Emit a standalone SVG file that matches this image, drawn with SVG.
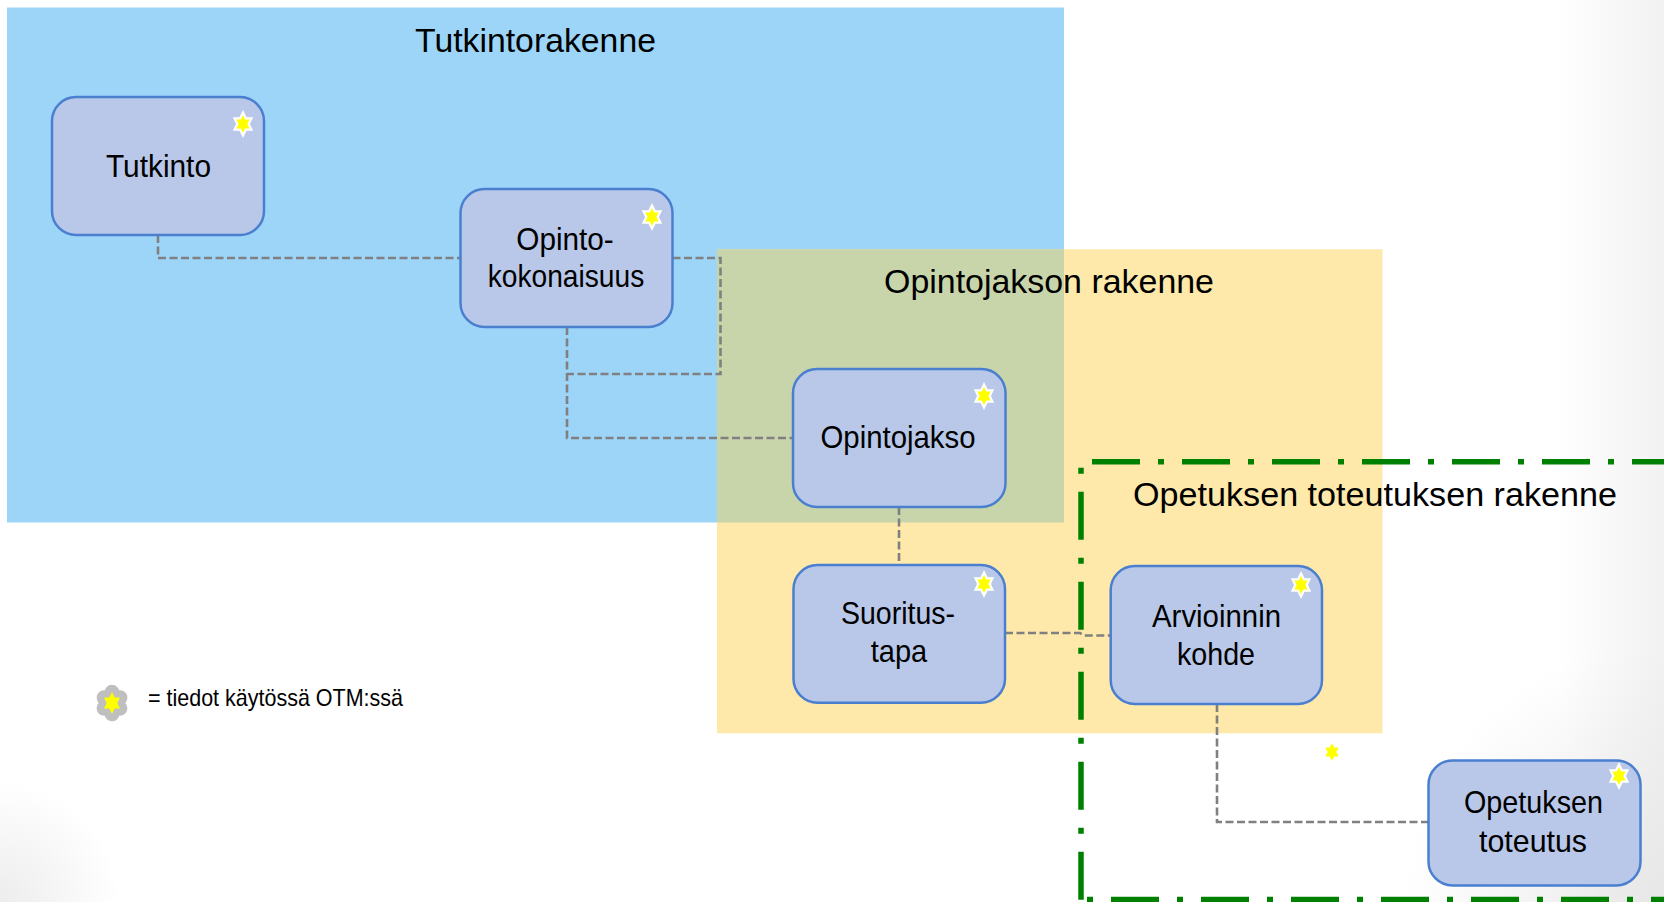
<svg xmlns="http://www.w3.org/2000/svg" width="1664" height="902" viewBox="0 0 1664 902">
<defs>
<style>
.bg-blue{fill:#9dd5f8}
.bg-yellow{fill:#fee9aa}
.bg-overlap{fill:#c8d5aa}
.title{font-family:"Liberation Sans",Arial,sans-serif;font-size:34px;fill:#000}
.box{fill:#b9c8e9;stroke:#4a7fd0;stroke-width:2.5}
.label{font-family:"Liberation Sans",Arial,sans-serif;font-size:32px;fill:#000;text-anchor:middle}
.legend{font-family:"Liberation Sans",Arial,sans-serif;font-size:24px;fill:#000}
.conn{fill:none;stroke:#808080;stroke-width:2.6;stroke-dasharray:8 3.5}
.star{fill:#ffff00;stroke:#ffffff;stroke-width:4.5;stroke-linejoin:miter;stroke-miterlimit:4;paint-order:stroke}
.star-legend{fill:#ffff00;stroke:#bfbfbf;stroke-width:12;stroke-linejoin:round;paint-order:stroke}
.green{fill:none;stroke:#008000;stroke-width:5.5;stroke-dasharray:48 18 6 18}
</style>
<polygon id="hex" points="0,-9 2.2,-4.5 6.6,-4.5 4.4,0 6.6,4.5 2.2,4.5 0,9 -2.2,4.5 -6.6,4.5 -4.4,0 -6.6,-4.5 -2.2,-4.5"/>
<linearGradient id="gRight" x1="0" y1="0" x2="1" y2="0">
<stop offset="0" stop-color="#e9e9e9" stop-opacity="0"/>
<stop offset="1" stop-color="#e9e9e9" stop-opacity="0.6"/>
</linearGradient>
<radialGradient id="gBR" cx="1664" cy="902" r="260" gradientUnits="userSpaceOnUse">
<stop offset="0" stop-color="#e6e6e6" stop-opacity="0.9"/>
<stop offset="1" stop-color="#e6e6e6" stop-opacity="0"/>
</radialGradient>
<radialGradient id="gBL" cx="0" cy="902" r="120" gradientUnits="userSpaceOnUse">
<stop offset="0" stop-color="#e8e8e8" stop-opacity="0.8"/>
<stop offset="1" stop-color="#e8e8e8" stop-opacity="0"/>
</radialGradient>
</defs>

<g id="background">
<rect x="0" y="0" width="1664" height="902" fill="#ffffff"/>
<rect x="1560" y="0" width="104" height="902" fill="url(#gRight)"/>
<rect x="1364" y="602" width="300" height="300" fill="url(#gBR)"/>
<rect x="0" y="760" width="140" height="142" fill="url(#gBL)"/>
</g>

<g id="region-tutkintorakenne">
<rect class="bg-blue" x="7" y="7.5" width="1057" height="515"/>
</g>
<g id="region-opintojakson-rakenne">
<rect class="bg-yellow" x="717" y="249.3" width="665.5" height="484"/>
<rect class="bg-overlap" x="717" y="249.3" width="347" height="273.2"/>
</g>
<g id="region-titles">
<text class="title" x="415" y="52" textLength="241" lengthAdjust="spacingAndGlyphs">Tutkintorakenne</text>
<text class="title" x="884" y="293" textLength="330" lengthAdjust="spacingAndGlyphs">Opintojakson rakenne</text>
</g>

<g id="region-opetuksen-toteutuksen-rakenne">
<path class="green" d="M1081,461.7 H1672" stroke-dashoffset="79"/>
<path class="green" d="M1081,461.7 V906" stroke-dashoffset="60"/>
<path class="green" d="M1081,899.5 H1672" stroke-dashoffset="60"/>
<text class="title" x="1133" y="506" textLength="484" lengthAdjust="spacingAndGlyphs">Opetuksen toteutuksen rakenne</text>
</g>

<g id="connectors">
<path class="conn" d="M158,235 V258 H460.5"/>
<path class="conn" d="M672.5,258 H720.5 V374 H567"/>
<path class="conn" d="M567,327 V438 H793"/>
<path class="conn" d="M899,507 V565"/>
<path class="conn" d="M1005,633 H1080 L1084,635.5 H1110.7"/>
<path class="conn" d="M1217,704 V822 H1428.5"/>
</g>

<g id="node-tutkinto">
<rect class="box" x="52" y="97" width="212" height="138" rx="24" ry="24"/>
<text class="label" x="158.5" y="177" textLength="105" lengthAdjust="spacingAndGlyphs">Tutkinto</text>
<use href="#hex" class="star" x="243" y="124"/>
</g>

<g id="node-opintokokonaisuus">
<rect class="box" x="460.5" y="189" width="212" height="138" rx="24" ry="24"/>
<text class="label" x="565" y="250" textLength="97.5" lengthAdjust="spacingAndGlyphs">Opinto-</text>
<text class="label" x="566" y="287" textLength="156.5" lengthAdjust="spacingAndGlyphs">kokonaisuus</text>
<use href="#hex" class="star" x="652" y="217"/>
</g>

<g id="node-opintojakso">
<rect class="box" x="793" y="369" width="212.5" height="138" rx="24" ry="24"/>
<text class="label" x="898" y="448" textLength="155" lengthAdjust="spacingAndGlyphs">Opintojakso</text>
<use href="#hex" class="star" x="984" y="396"/>
</g>

<g id="node-suoritustapa">
<rect class="box" x="793.5" y="565" width="211.5" height="137.7" rx="24" ry="24"/>
<text class="label" x="898" y="624" textLength="114" lengthAdjust="spacingAndGlyphs">Suoritus-</text>
<text class="label" x="899" y="661.7" textLength="56.5" lengthAdjust="spacingAndGlyphs">tapa</text>
<use href="#hex" class="star" x="984" y="584"/>
</g>

<g id="node-arvioinnin-kohde">
<rect class="box" x="1110.7" y="566" width="211.3" height="138" rx="24" ry="24"/>
<text class="label" x="1216.5" y="626.7" textLength="129" lengthAdjust="spacingAndGlyphs">Arvioinnin</text>
<text class="label" x="1216" y="665" textLength="78" lengthAdjust="spacingAndGlyphs">kohde</text>
<use href="#hex" class="star" x="1301" y="585"/>
</g>

<g id="node-opetuksen-toteutus">
<rect class="box" x="1428.5" y="760.5" width="212" height="125" rx="24" ry="24"/>
<text class="label" x="1533.5" y="813" textLength="139" lengthAdjust="spacingAndGlyphs">Opetuksen</text>
<text class="label" x="1533" y="851.7" textLength="108" lengthAdjust="spacingAndGlyphs">toteutus</text>
<use href="#hex" class="star" x="1619" y="776"/>
</g>

<g id="loose-star">
<use href="#hex" class="star" x="1332" y="752"/>
</g>

<g id="legend">
<use href="#hex" class="star-legend" transform="translate(112,703) scale(1.22)"/>
<text class="legend" x="148" y="706" textLength="255" lengthAdjust="spacingAndGlyphs">= tiedot käytössä OTM:ssä</text>
</g>
</svg>
